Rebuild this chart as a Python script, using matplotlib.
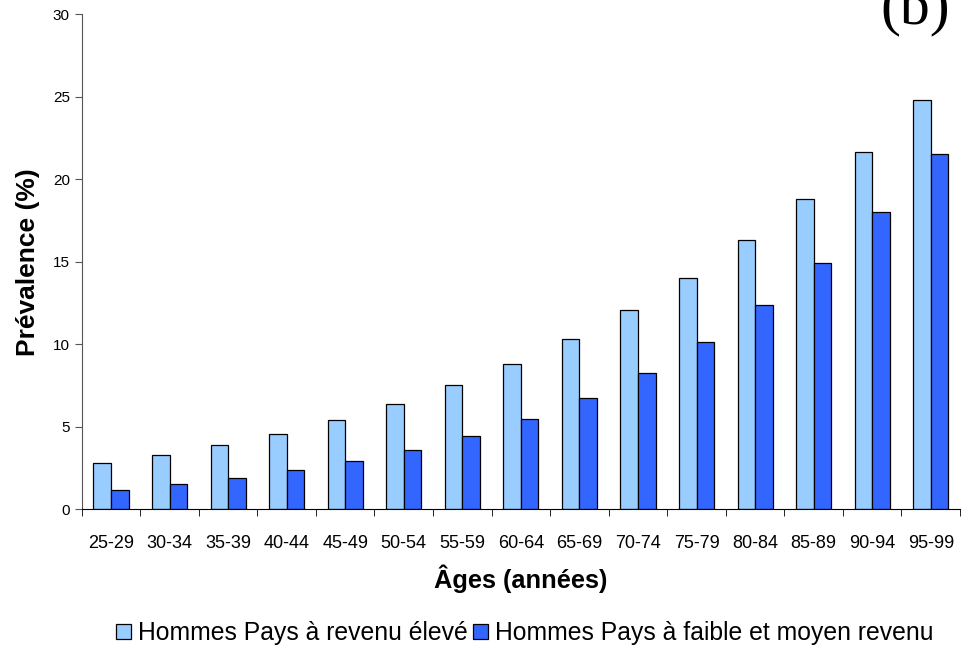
import matplotlib
matplotlib.use("Agg")
import matplotlib.pyplot as plt
import numpy as np

plt.rcParams['font.family'] = ['Liberation Sans', 'DejaVu Sans']

# Tranches d'âge et prévalence (%) chez les hommes
ages = ['25-29', '30-34', '35-39', '40-44', '45-49', '50-54', '55-59', '60-64',
        '65-69', '70-74', '75-79', '80-84', '85-89', '90-94', '95-99']
revenu_eleve = [2.8, 3.25, 3.9, 4.55, 5.4, 6.35, 7.5, 8.8, 10.3, 12.05, 14.0, 16.3, 18.8, 21.65, 24.8]
revenu_faible = [1.15, 1.5, 1.85, 2.35, 2.9, 3.6, 4.4, 5.45, 6.75, 8.25, 10.1, 12.35, 14.9, 18.0, 21.5]
labels = ['Hommes Pays à revenu élevé', 'Hommes Pays à faible et moyen revenu']

fig = plt.figure(figsize=(9.61, 6.48), dpi=100)
ax = fig.add_axes([0.085, 0.2145, 0.914, 0.7635])

x = np.arange(len(ages))
w = 0.3
ax.bar(x - w / 2, revenu_eleve, w, color='#99CCFF', edgecolor='black', linewidth=0.9, label=labels[0])
ax.bar(x + w / 2, revenu_faible, w, color='#3366FF', edgecolor='black', linewidth=0.9, label=labels[1])

ax.set_xlim(-0.5, len(ages) - 0.5)
ax.set_ylim(0, 30)
ax.set_yticks(range(0, 31, 5))
ax.tick_params(axis='y', labelsize=11, length=5, color='#555555', pad=3.5)

# labels centred on the groups, tick marks between them
ax.set_xticks(x)
ax.set_xticklabels(ages, fontsize=13)
ax.set_xticks(np.arange(-0.5, len(ages), 1), minor=True)
ax.tick_params(axis='x', which='major', length=0, pad=19)
ax.tick_params(axis='x', which='minor', length=5, color='black')

for s in ['top', 'right']:
    ax.spines[s].set_visible(False)
ax.spines['left'].set_color('#555555')
ax.spines['bottom'].set_color('black')

ax.set_xlabel('Âges (années)', fontsize=18.3, fontweight='bold', labelpad=9)
ax.set_ylabel('Prévalence (%)', fontsize=19, fontweight='bold', labelpad=9)

fig.legend(loc='center', bbox_to_anchor=(0.546, 0.023), ncol=2, frameon=False,
           fontsize=17.8, handlelength=0.6, handleheight=0.6, handletextpad=0.28,
           columnspacing=0.2, borderpad=0.2)

fig.text(0.9886, 0.962, '(b)', fontsize=43, family='Liberation Serif',
         ha='right', va='baseline')

fig.savefig('out.png', dpi=100)
